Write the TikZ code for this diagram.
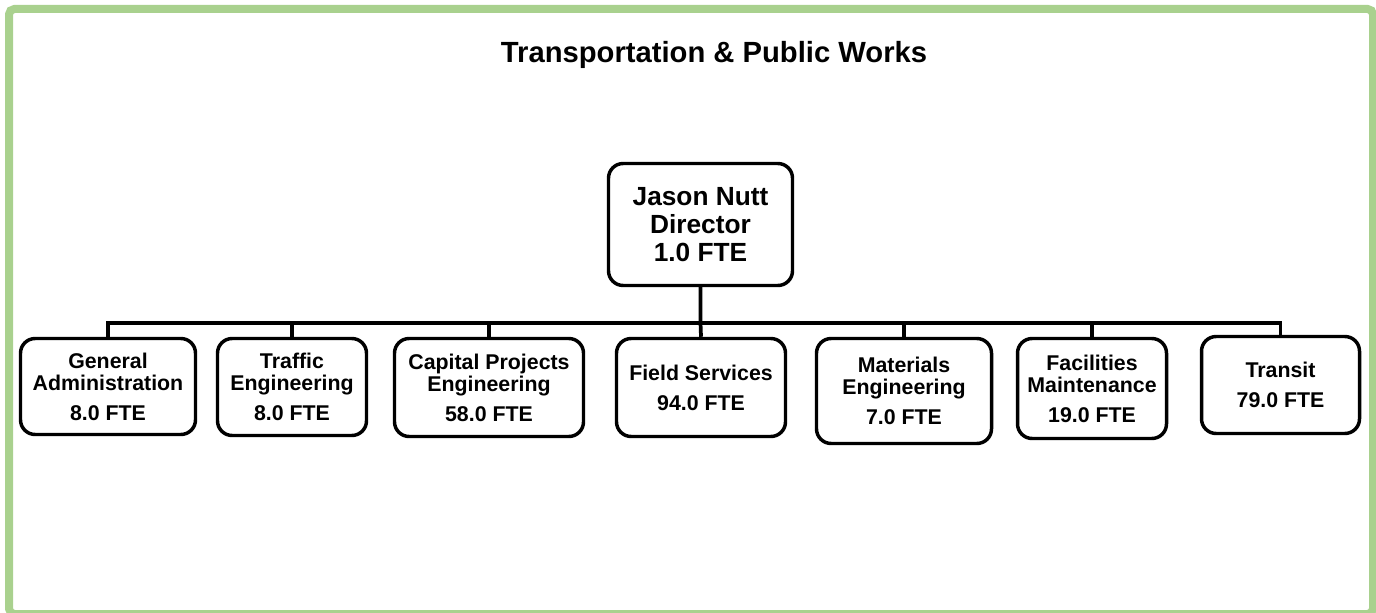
\documentclass[tikz,border=0pt]{standalone}
\usepackage{fontspec}
\setmainfont{Liberation Sans}
\definecolor{framegreen}{HTML}{A9D18E}
\begin{document}
\begin{tikzpicture}[x=0.75pt,y=-0.75pt,
  orgbox/.style={draw=black, line width=2.6pt, rounded corners=11pt, fill=white,
    inner sep=0pt, align=center, font=\fontsize{16}{16.5}\selectfont\bfseries},
  dirbox/.style={orgbox, font=\fontsize{19.7}{21}\selectfont\bfseries},
  link/.style={line width=2.8pt}]
\useasboundingbox (0,0) rectangle (1376,613);
\draw[framegreen, line width=6pt, rounded corners=4pt] (9,9) rectangle (1373,614);
\node[anchor=base, font=\fontsize{21.9}{24}\selectfont\bfseries] (title) at (714,63) {Transportation \& Public Works};
\node[dirbox, minimum width=138pt, minimum height=91.5pt] (dir) at (700.5,224.5) {Jason Nutt\\Director\\1.0 FTE};
\node[orgbox, minimum width=131.25pt, minimum height=72pt] (gen) at (108,386.5) {General\\Administration\\[6pt]8.0 FTE};
\node[orgbox, minimum width=111.75pt, minimum height=72.75pt] (traf) at (292,387) {Traffic\\Engineering\\[6pt]8.0 FTE};
\node[orgbox, minimum width=141.75pt, minimum height=73.5pt] (cap) at (489,387.5) {Capital Projects\\Engineering\\[6pt]58.0 FTE};
\node[orgbox, minimum width=126.75pt, minimum height=73.5pt] (field) at (701,387.5) {Field Services\\[6pt]94.0 FTE};
\node[orgbox, minimum width=131.25pt, minimum height=78.75pt] (mat) at (904,391) {Materials\\Engineering\\[6pt]7.0 FTE};
\node[orgbox, minimum width=111.75pt, minimum height=75pt] (fac) at (1092,388.5) {Facilities\\Maintenance\\[6pt]19.0 FTE};
\node[orgbox, minimum width=118.5pt, minimum height=72.75pt] (tran) at (1280.5,385) {Transit\\[6pt]79.0 FTE};
\coordinate (bus) at (700.5,323);
\draw[link] (dir.south) -- (bus) -- (field.north);
\draw[link] (gen.north) |- (bus) -| (tran.north);
\draw[link] (bus) -| (traf.north);
\draw[link] (bus) -| (cap.north);
\draw[link] (bus) -| (mat.north);
\draw[link] (bus) -| (fac.north);
\end{tikzpicture}
\end{document}
